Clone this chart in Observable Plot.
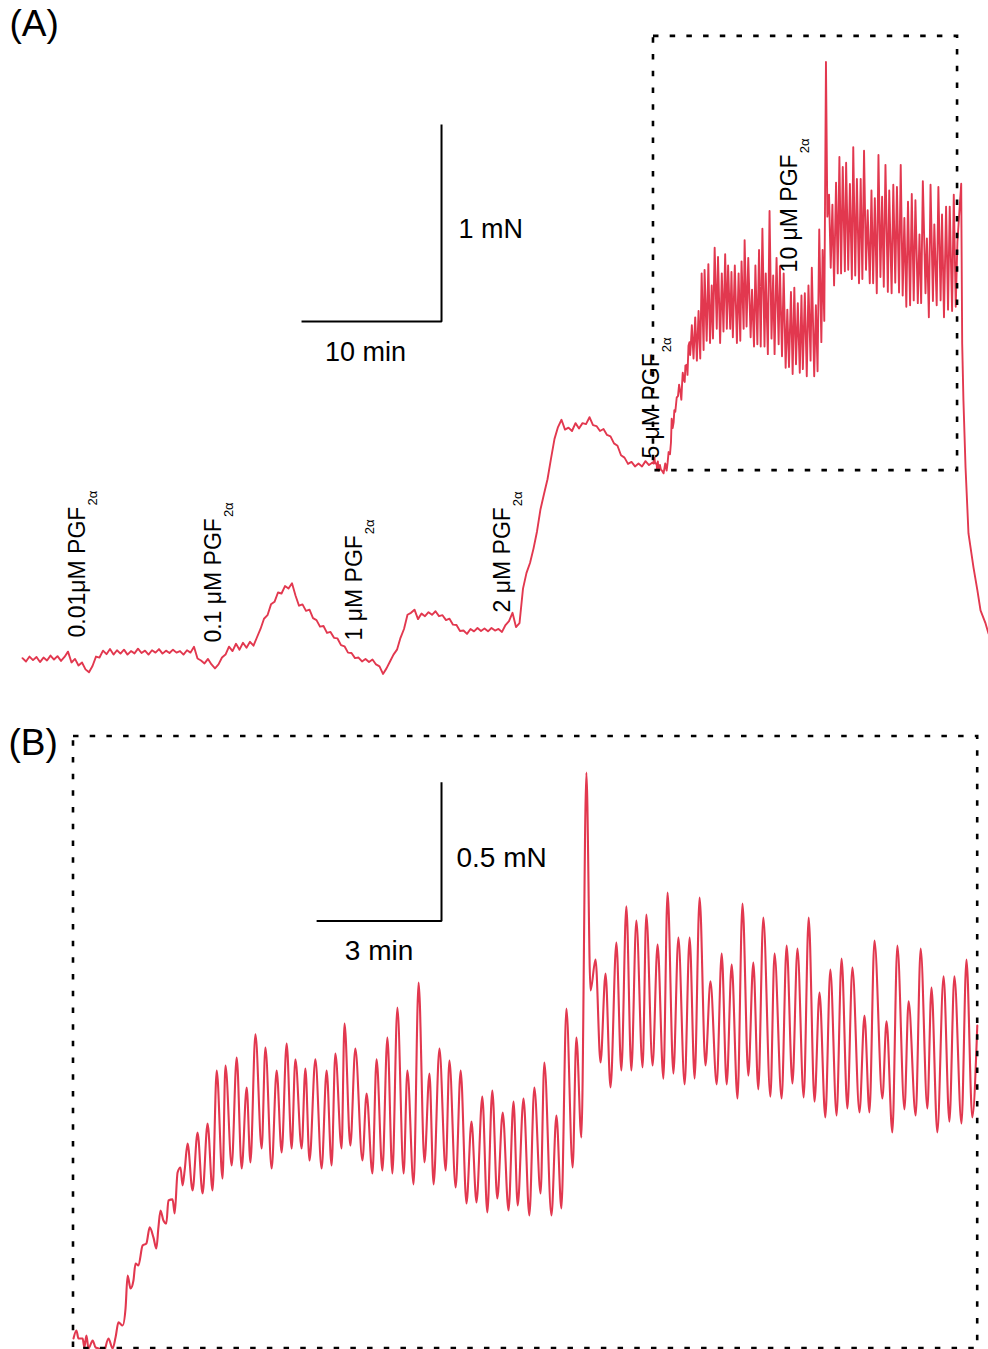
<!DOCTYPE html>
<html>
<head>
<meta charset="utf-8">
<script src="https://cdn.jsdelivr.net/npm/d3@7"></script>
<script src="https://cdn.jsdelivr.net/npm/@observablehq/plot@0.6"></script>
<style>
  html, body { margin: 0; padding: 0; background: #fff; }
  #chart svg { display: block; }
</style>
</head>
<body>
<div id="chart"></div>
<script>
// ---------------- DATA ----------------
// Isometric tension trace, time in minutes, force in mN (baseline = 0 mN).
// Early part of the recording (before the zoomed window).
const traceEarly = [[0,0.012],[0.25,-0.005],[0.5,0.020],[0.75,0.002],[1,0.018],[1.25,-0.008],[1.5,0.015],[1.75,0.000],[2,0.025],[2.25,0.005],[2.5,0.022],[2.75,-0.002],[3,0.018],[3.25,0.045],[3.5,-0.010],[3.75,0.008],[4,-0.025],[4.25,-0.010],[4.5,-0.045],[4.75,-0.060],[5,-0.028],[5.25,0.020],[5.5,0.015],[5.75,0.050],[6,0.032],[6.25,0.058],[6.5,0.030],[6.75,0.052],[7,0.035],[7.25,0.055],[7.5,0.030],[7.75,0.048],[8,0.036],[8.25,0.060],[8.5,0.038],[8.75,0.050],[9,0.030],[9.25,0.052],[9.5,0.040],[9.75,0.058],[10,0.035],[10.25,0.050],[10.5,0.038],[10.75,0.055],[11,0.040],[11.25,0.048],[11.5,0.030],[11.75,0.052],[12,0.040],[12.25,0.070],[12.5,0.010],[12.75,0.000],[13,-0.015],[13.25,0.008],[13.5,-0.020],[13.75,-0.040],[14,-0.020],[14.25,0.015],[14.5,0.030],[14.75,0.070],[15,0.048],[15.25,0.085],[15.5,0.055],[15.75,0.090],[16,0.065],[16.25,0.095],[16.5,0.075],[16.75,0.118],[17,0.160],[17.25,0.212],[17.5,0.230],[17.75,0.285],[18,0.298],[18.25,0.345],[18.5,0.340],[18.75,0.378],[19,0.365],[19.25,0.392],[19.5,0.330],[19.75,0.278],[20,0.285],[20.25,0.252],[20.5,0.258],[20.75,0.215],[21,0.205],[21.25,0.172],[21.5,0.175],[21.75,0.140],[22,0.145],[22.25,0.115],[22.5,0.112],[22.75,0.078],[23,0.072],[23.25,0.040],[23.5,0.038],[23.75,0.012],[24,0.015],[24.25,-0.005],[24.5,0.008],[24.75,-0.008],[25,0.005],[25.25,-0.020],[25.5,-0.030],[25.75,-0.068],[26,-0.040],[26.25,-0.005],[26.5,0.030],[26.75,0.055],[27,0.115],[27.25,0.160],[27.5,0.232],[27.75,0.242],[28,0.258],[28.25,0.210],[28.5,0.238],[28.75,0.225],[29,0.245],[29.25,0.232],[29.5,0.250],[29.75,0.225],[30,0.230],[30.25,0.205],[30.5,0.212],[30.75,0.182],[31,0.180],[31.25,0.150],[31.5,0.152],[31.75,0.135],[32,0.160],[32.25,0.148],[32.5,0.165],[32.75,0.150],[33,0.162],[33.25,0.148],[33.5,0.165],[33.75,0.152],[34,0.160],[34.25,0.145],[34.5,0.180],[34.75,0.200],[35,0.242],[35.25,0.170],[35.5,0.190],[35.75,0.365],[36,0.445],[36.25,0.495],[36.5,0.568],[36.75,0.655],[37,0.768],[37.25,0.845],[37.5,0.920],[37.75,1.025],[38,1.125],[38.25,1.185],[38.5,1.222],[38.75,1.172],[39,1.182],[39.25,1.165],[39.5,1.205],[39.75,1.178],[40,1.205],[40.25,1.200],[40.5,1.235],[40.75,1.195],[41,1.190],[41.25,1.165],[41.5,1.175],[41.75,1.145],[42,1.138],[42.25,1.102],[42.5,1.090],[42.75,1.042],[43,1.030],[43.25,0.998],[43.5,1.008],[43.75,0.985],[44,1.000],[44.25,0.985],[44.5,1.012],[44.75,0.992],[45,1.005]];

// Zoomed window (5 and 10 µM PGF2α).
const traceZoom = [[45.07,1.000],[45.14,1.029],[45.19,1.000],[45.29,1.000],[45.33,0.968],[45.38,1.011],[45.43,0.964],[45.53,0.993],[45.60,0.968],[45.67,0.964],[45.79,0.950],[45.91,1.000],[46.01,0.964],[46.08,1.004],[46.15,1.058],[46.25,1.047],[46.32,1.108],[46.37,1.227],[46.44,1.180],[46.51,1.209],[46.56,1.270],[46.63,1.263],[46.73,1.335],[46.82,1.342],[46.90,1.400],[46.99,1.364],[47.06,1.324],[47.11,1.400],[47.16,1.461],[47.23,1.425],[47.30,1.414],[47.35,1.497],[47.45,1.501],[47.50,1.450],[47.57,1.598],[47.64,1.616],[47.69,1.551],[47.74,1.605],[47.81,1.702],
[47.93,1.533],[48.05,1.742],[48.17,1.522],[48.29,1.774],[48.41,1.533],[48.51,1.965],[48.65,1.576],[48.72,1.983],[48.87,1.623],[48.99,2.012],[49.11,1.612],[49.23,1.904],[49.32,1.634],[49.44,2.095],[49.59,1.684],[49.68,2.048],[49.83,1.612],[49.95,1.965],[50.07,1.670],[50.19,2.062],[50.31,1.684],[50.40,2.005],[50.55,1.684],[50.64,1.972],[50.74,1.641],[50.88,2.005],[51.03,1.612],[51.15,1.965],[51.27,1.623],[51.36,2.026],[51.51,1.684],[51.58,2.134],[51.72,1.695],[51.84,2.044],[52.01,1.641],[52.11,1.882],[52.25,1.594],[52.35,2.005],[52.49,1.605],[52.61,2.084],[52.73,1.594],[52.85,2.192],[53.00,1.594],[53.09,1.965],[53.24,1.555],[53.36,2.282],[53.50,1.634],[53.62,1.954],[53.72,1.555],[53.86,2.044],[54.01,1.605],[54.10,2.001],[54.25,1.544],[54.37,1.965],[54.51,1.486],[54.63,1.781],[54.75,1.490],[54.89,1.871],[55.01,1.454],[55.13,1.893],[55.25,1.504],[55.38,1.814],[55.52,1.461],[55.64,1.853],[55.74,1.479],[55.88,1.864],[56.02,1.443],[56.14,1.904],[56.29,1.522],[56.38,1.994],[56.55,1.443],[56.67,1.803],[56.79,1.468],[56.91,2.188],[57.06,1.616],[57.15,2.084],[57.27,1.724],
[57.39,3.038],[57.49,2.253],[57.61,2.365],[57.73,1.994],[57.85,2.314],[57.97,1.904],[58.11,2.426],[58.23,1.965],[58.35,2.556],[58.47,1.965],[58.59,2.505],[58.74,1.976],[58.83,2.527],[58.98,1.983],[59.10,2.419],[59.24,1.936],[59.34,2.606],[59.48,1.954],[59.60,2.444],[59.75,1.915],[59.87,2.444],[59.99,1.936],[60.11,2.588],[60.25,1.983],[60.37,2.286],[60.52,1.915],[60.64,2.386],[60.76,1.915],[60.88,2.347],[61.02,1.864],[61.14,2.566],[61.28,1.947],[61.40,2.354],[61.52,1.897],[61.64,2.516],[61.81,1.871],[61.91,2.386],[62.08,1.864],[62.20,2.415],[62.34,1.918],[62.46,2.404],[62.61,1.868],[62.73,2.516],[62.87,1.853],[62.99,2.246],[63.13,1.796],[63.25,2.329],[63.40,1.803],[63.52,2.368],[63.66,1.828],[63.78,2.336],[63.95,1.814],[64.07,2.163],[64.19,1.814],[64.31,2.433],[64.50,1.864],[64.60,2.142],[64.74,1.742],[64.86,2.415],[65.03,1.825],[65.13,2.214],[65.30,1.803],[65.42,2.404],[65.58,1.828],[65.68,2.264],[65.82,1.742],[65.97,2.304],[66.11,1.781],[66.23,2.304],[66.40,1.774],[66.52,2.365],[66.66,1.796],[66.78,2.127]];

// Washout after the zoomed window.
const traceWashout = [[67.05,2.420],[67.12,1.610],[67.21,1.320],[67.36,0.980],[67.57,0.645],[67.93,0.472],[68.21,0.355],[68.43,0.254],[68.79,0.188],[69.0,0.137]];

// Drug additions (cumulative PGF2α)
const drugNames = ["0.01μM PGF", "0.1 μM PGF", "1 μM PGF", "2 μM PGF", "5 μM PGF", "10 μM PGF"];
const drugSubscript = "2α";
const drugTimes = [3.93, 13.64, 23.71, 34.29, 44.93, 54.79];       // min
const drugLabelForce = [0.117, 0.091, 0.102, 0.244, 1.025, 1.970]; // mN, foot of label

// Zoomed window shown in panel B
const zoomTime = [45.07, 66.79];    // min
const zoomForce = [0.964, 3.168];   // mN

// Scale bars
const scaleA = {minutes: 10, mN: 1, cornerT: 29.93, cornerF: 1.721, tLabel: "10 min", fLabel: "1 mN"};
const scaleB = {minutes: 3, mN: 0.5, cornerT: 53.91, cornerF: 2.503, tLabel: "3 min", fLabel: "0.5 mN"};

const panelLabels = ["(A)", "(B)"];

// ---------------- LAYOUT ----------------
const W = 988;
const RED = "#e2384f";
const FONT = "Liberation Sans, Arial, Helvetica, sans-serif";
const LA = {height: 700, pxPerMin: 14, originX: 22, pxPerMN: 197, originY: 660};
const LB = {height: 649, pxPerMin: 41.63, pxPerMN: 277.7, leftX: 73, bottomY: 648};

const toRows = arr => arr.map(([t, f]) => ({t, f}));
const trace = [...toRows(traceEarly), ...toRows(traceZoom), ...toRows(traceWashout)];
const zoomRows = trace.filter(d => d.t >= zoomTime[0] && d.t <= zoomTime[1]);
const windowRect = [{t1: zoomTime[0], t2: zoomTime[1], f1: zoomForce[0], f2: zoomForce[1]}];
const drugs = drugNames.map((name, i) => ({name, t: drugTimes[i], f: drugLabelForce[i]}));
const barPoints = s => [
  {t: s.cornerT - s.minutes, f: s.cornerF},
  {t: s.cornerT, f: s.cornerF},
  {t: s.cornerT, f: s.cornerF + s.mN}
];

const dotted = {fill: "none", stroke: "black", strokeWidth: 2.6, strokeDasharray: "5.5,11.2", strokeLinecap: "butt"};

function scaleBarMarks(s, fs, labelDx, labelDyV, labelDxH, labelDyH) {
  return [
    Plot.line(barPoints(s), {x: "t", y: "f", stroke: "black", strokeWidth: 2, strokeLinecap: "butt", strokeLinejoin: "miter"}),
    Plot.text([s.fLabel], {x: () => s.cornerT, y: () => s.cornerF + s.mN / 2, text: d => d, textAnchor: "start",
      dx: labelDx, dy: labelDyV, fontSize: fs, fontFamily: FONT, fill: "black"}),
    Plot.text([s.tLabel], {x: () => s.cornerT - s.minutes / 2, y: () => s.cornerF, text: d => d, textAnchor: "middle",
      dx: labelDxH, dy: labelDyH, fontSize: fs, fontFamily: FONT, fill: "black"})
  ];
}

// ---------- Panel A ----------
const svgA = Plot.plot({
  width: W, height: LA.height, margin: 0,
  style: {background: "white", fontFamily: FONT, overflow: "hidden"},
  x: {axis: null, domain: [-LA.originX / LA.pxPerMin, (W - LA.originX) / LA.pxPerMin], range: [0, W]},
  y: {axis: null, domain: [(LA.originY - LA.height) / LA.pxPerMN, LA.originY / LA.pxPerMN], range: [LA.height, 0]},
  marks: [
    Plot.line(trace, {x: "t", y: "f", stroke: RED, strokeWidth: 1.9}),
    ...scaleBarMarks(scaleA, 27, 17, 6, -6, 31),
    Plot.text(drugs, {x: "t", y: "f", text: "name", rotate: -90, textAnchor: "start", lineAnchor: "middle",
      fontSize: 23, fontFamily: FONT, fill: "black"}),
    Plot.rect(windowRect, {x1: "t1", x2: "t2", y1: "f1", y2: "f2", ...dotted}),
    Plot.text([panelLabels[0]], {frameAnchor: "top-left", text: d => d, textAnchor: "start", lineAnchor: "top",
      dx: 9, dy: 9, fontSize: 37, fontFamily: FONT, fill: "black"})
  ]
});
// subscript "2α" after each PGF label
d3.select(svgA).selectAll("text")
  .filter(function() { return drugNames.includes(this.textContent); })
  .append("tspan").attr("dx", 1).attr("dy", 12).attr("font-size", 13).text(drugSubscript);

// ---------- Panel B ----------
const svgB = Plot.plot({
  width: W, height: LB.height, margin: 0,
  style: {background: "white", fontFamily: FONT, overflow: "hidden"},
  x: {axis: null, domain: [zoomTime[0] - LB.leftX / LB.pxPerMin, zoomTime[0] + (W - LB.leftX) / LB.pxPerMin], range: [0, W]},
  y: {axis: null, domain: [zoomForce[0] - (LB.height - LB.bottomY) / LB.pxPerMN, zoomForce[0] + LB.bottomY / LB.pxPerMN], range: [LB.height, 0]},
  marks: [
    Plot.line(zoomRows, {x: "t", y: "f", stroke: RED, strokeWidth: 2.1, curve: "monotone-x"}),
    ...scaleBarMarks(scaleB, 28, 15, 6, 0, 30),
    Plot.rect(windowRect, {x1: "t1", x2: "t2", y1: "f1", y2: "f2", ...dotted}),
    Plot.text([panelLabels[1]], {frameAnchor: "top-left", text: d => d, textAnchor: "start", lineAnchor: "top",
      dx: 8, dy: 28, fontSize: 37, fontFamily: FONT, fill: "black"})
  ]
});

const chart = document.getElementById("chart");
chart.appendChild(svgA);
chart.appendChild(svgB);
</script>
</body>
</html>
